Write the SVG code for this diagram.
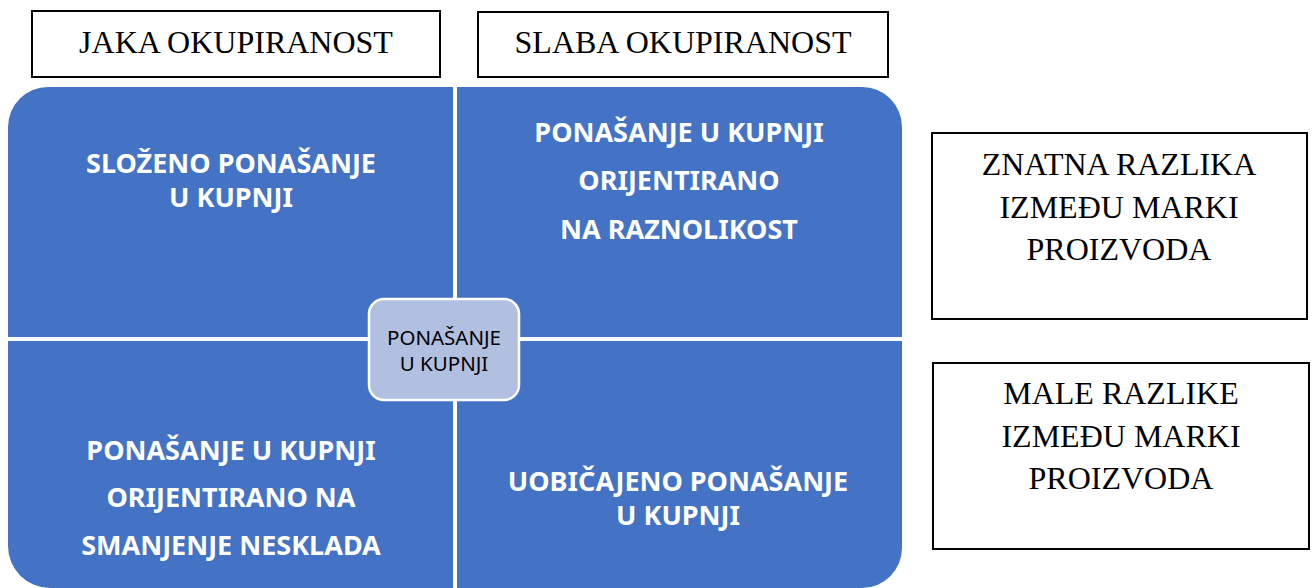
<svg xmlns="http://www.w3.org/2000/svg" width="1314" height="588" viewBox="0 0 1314 588">
<style>
.q{fill:#4472C4}
.qt{font-family:"Noto Sans","Open Sans",sans-serif;font-weight:bold;font-size:27px;fill:#FFFFFF;text-anchor:middle}
.bx{fill:#FFFFFF;stroke:#000000;stroke-width:2}
.bt{font-family:"Liberation Serif","Times New Roman",serif;font-size:32px;fill:#000000;text-anchor:middle}
.ct{font-family:"Noto Sans","Open Sans",sans-serif;font-size:20.5px;fill:#000000;text-anchor:middle}
</style>
<rect width="1314" height="588" fill="#FFFFFF"/>
<g id="jaka">
<rect class="bx" x="32" y="11" width="408" height="66"/>
<text class="bt" x="236" y="53">JAKA OKUPIRANOST</text>
</g>
<g id="slaba">
<rect class="bx" x="478" y="12" width="410" height="65"/>
<text class="bt" x="683" y="53">SLABA OKUPIRANOST</text>
</g>
<g id="q-slozeno">
<path class="q" d="M8,127 A40,40 0 0 1 48,87 L453,87 L453,337 L8,337 Z"/>
<text class="qt" x="231" y="173">SLOŽENO PONAŠANJE</text>
<text class="qt" x="231" y="207">U KUPNJI</text>
</g>
<g id="q-raznolikost">
<path class="q" d="M457,87 L862,87 A40,40 0 0 1 902,127 L902,337 L457,337 Z"/>
<text class="qt" x="679" y="142">PONAŠANJE U KUPNJI</text>
<text class="qt" x="679" y="190">ORIJENTIRANO</text>
<text class="qt" x="679" y="239">NA RAZNOLIKOST</text>
</g>
<g id="q-nesklad">
<path class="q" d="M8,341 L453,341 L453,588 L50,588 A42,42 0 0 1 8,546 Z"/>
<text class="qt" x="231" y="460">PONAŠANJE U KUPNJI</text>
<text class="qt" x="231" y="507">ORIJENTIRANO NA</text>
<text class="qt" x="231" y="555">SMANJENJE NESKLADA</text>
</g>
<g id="q-uobicajeno">
<path class="q" d="M457,341 L902,341 L902,548 A40,40 0 0 1 862,588 L457,588 Z"/>
<text class="qt" x="678" y="491">UOBIČAJENO PONAŠANJE</text>
<text class="qt" x="678" y="525">U KUPNJI</text>
</g>
<g id="center">
<rect x="369" y="299" width="150" height="101" rx="15" ry="15" fill="#B1BFE0" stroke="#FFFFFF" stroke-width="2.5"/>
<text class="ct" x="444" y="345">PONAŠANJE</text>
<text class="ct" x="444" y="371">U KUPNJI</text>
</g>
<g id="znatna">
<rect class="bx" x="932" y="133" width="375" height="186"/>
<text class="bt" x="1119" y="175">ZNATNA RAZLIKA</text>
<text class="bt" x="1119" y="218">IZMEĐU MARKI</text>
<text class="bt" x="1119" y="260">PROIZVODA</text>
</g>
<g id="male">
<rect class="bx" x="933" y="363" width="376" height="186"/>
<text class="bt" x="1121" y="404">MALE RAZLIKE</text>
<text class="bt" x="1121" y="447">IZMEĐU MARKI</text>
<text class="bt" x="1121" y="489">PROIZVODA</text>
</g>
</svg>
